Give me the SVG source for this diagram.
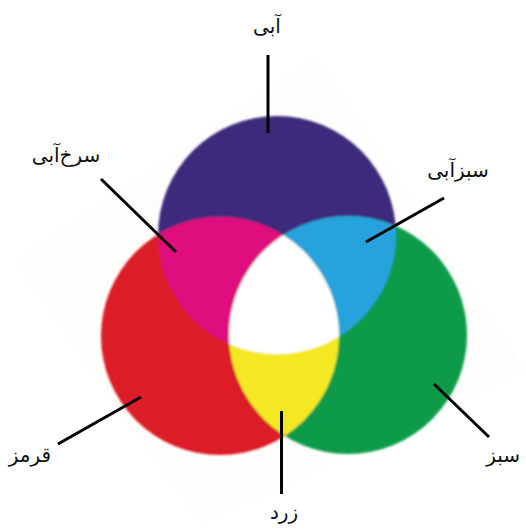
<svg xmlns="http://www.w3.org/2000/svg" width="526" height="529" viewBox="0 0 526 529">
<style>
.lbl{font-family:"DejaVu Serif","Liberation Serif","DejaVu Sans",serif;font-size:20px;fill:#111;text-anchor:middle}
.ln{stroke:#000;stroke-width:3;fill:none}
</style>
<defs>
<clipPath id="cB"><circle cx="277" cy="235" r="119"/></clipPath>
<clipPath id="cR"><circle cx="220" cy="336" r="119"/></clipPath>
<clipPath id="cG"><circle cx="348" cy="335" r="119"/></clipPath>
<filter id="soft" x="-10%" y="-10%" width="120%" height="120%"><feGaussianBlur stdDeviation="1.2"/></filter>
</defs>
<rect width="526" height="529" fill="#fff"/>
<polygon points="316,57 525,370 202,525 15,261" fill="#fdfdfc"/>
<g id="circles" filter="url(#soft)">
<g id="blue"><circle cx="277" cy="235" r="119" fill="#3d2a7b"/></g>
<g id="red"><circle cx="220" cy="336" r="119" fill="#dc1f27"/></g>
<g id="green"><circle cx="348" cy="335" r="119" fill="#079b48"/></g>
<g id="magenta" clip-path="url(#cB)"><circle cx="220" cy="336" r="119" fill="#df0c7e"/></g>
<g id="cyan" clip-path="url(#cB)"><circle cx="348" cy="335" r="119" fill="#26a3dc"/></g>
<g id="yellow" clip-path="url(#cR)"><circle cx="348" cy="335" r="119" fill="#f4e823"/></g>
<g id="white" clip-path="url(#cR)"><g clip-path="url(#cG)"><circle cx="277" cy="235" r="119" fill="#fff"/></g></g>
</g>
<g id="connectors">
<line class="ln" x1="268" y1="55" x2="268" y2="133"/>
<line class="ln" x1="101" y1="179" x2="176" y2="252"/>
<line class="ln" x1="444" y1="198" x2="366" y2="242"/>
<line class="ln" x1="141" y1="397" x2="58" y2="444"/>
<line class="ln" x1="434" y1="384" x2="489" y2="437"/>
<line class="ln" x1="281.5" y1="411" x2="281.5" y2="494"/>
</g>
<g id="labels">
<g id="l-blue"><text class="lbl" x="267" y="33">آبی</text></g>
<g id="l-magenta"><text class="lbl" x="66" y="162">سرخ‌آبی</text></g>
<g id="l-cyan"><text class="lbl" x="458" y="177">سبزآبی</text></g>
<g id="l-red"><text class="lbl" x="30" y="462">قرمز</text></g>
<g id="l-green"><text class="lbl" x="520" y="462" style="text-anchor:end">سبز</text></g>
<g id="l-yellow"><text class="lbl" x="284" y="519">زرد</text></g>
</g>
</svg>
